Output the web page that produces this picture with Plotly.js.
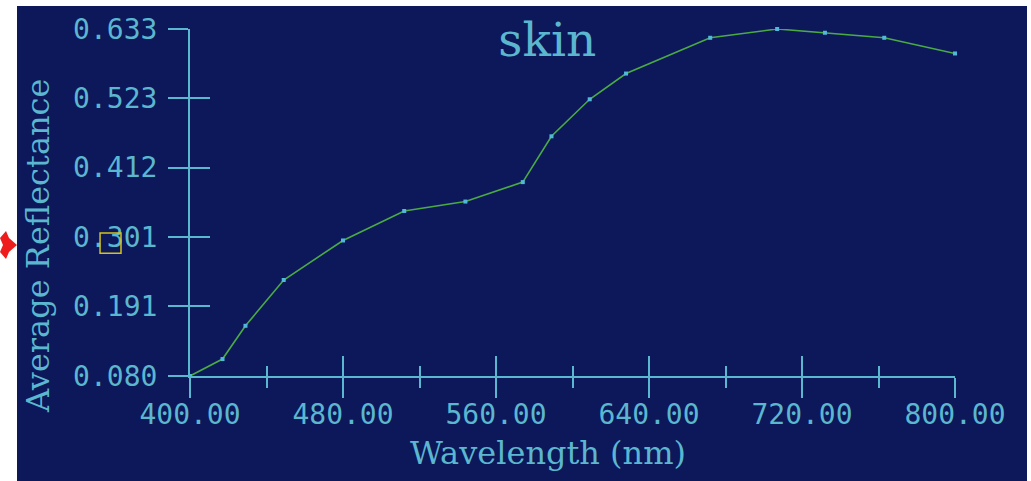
<!DOCTYPE html>
<html>
<head>
<meta charset="utf-8">
<script src="https://cdn.plot.ly/plotly-3.0.1.min.js"></script>
<style>
  html, body { margin: 0; padding: 0; background: #ffffff; width: 1031px; height: 481px; overflow: hidden; }
  #chart { position: absolute; left: 17px; top: 6px; width: 1010px; height: 475px; }
  #arrow { position: absolute; left: 0px; top: 231px; width: 17px; height: 28px; }
</style>
</head>
<body>
<svg id="arrow" viewBox="0 0 17 28"><polygon points="0,7 6,0 9,7 17,14 9,21 6,28 0,21 3,14" fill="#ee1c1c"/></svg>
<div id="chart"></div>
<script>
// Data
const wavelength = [400, 417, 429, 449, 480, 512, 544, 574, 589, 609, 628, 672, 707, 732, 763, 800];
const reflectance = [0.080, 0.107, 0.160, 0.233, 0.296, 0.343, 0.358, 0.389, 0.462, 0.521, 0.562, 0.619, 0.633, 0.627, 0.619, 0.594];
const yTickVals = [0.080, 0.191, 0.301, 0.412, 0.523, 0.633];
const yTickText = ['0.080', '0.191', '0.301', '0.412', '0.523', '0.633'];
const xTickVals = [400, 480, 560, 640, 720, 800];
const xTickText = ['400.00', '480.00', '560.00', '640.00', '720.00', '800.00'];
const chartTitle = 'skin';
const xTitle = 'Wavelength (nm)';
const yTitle = 'Average Reflectance';

const navy = '#0d185a';
const cyan = '#5bb6cf';
const green = '#4aab45';

const traces = [
  {
    x: wavelength, y: reflectance,
    type: 'scatter', mode: 'lines+markers',
    line: { color: green, width: 1.6 },
    marker: { color: '#52b8d8', size: 4, symbol: 'square' },
    cliponaxis: false,
    hoverinfo: 'x+y'
  },
  {
    x: wavelength, y: reflectance,
    xaxis: 'x2', yaxis: 'y2',
    type: 'scatter', mode: 'lines',
    line: { color: green, width: 0 },
    opacity: 0, hoverinfo: 'skip', showlegend: false
  }
];

const tickFont = { family: 'DejaVu Sans Mono', size: 28, color: cyan };
const titleFont = { family: 'DejaVu Serif', size: 32, color: cyan };

const layout = {
  width: 1010, height: 475,
  paper_bgcolor: navy, plot_bgcolor: navy,
  margin: { l: 173, r: 72, t: 23, b: 105 },
  showlegend: false,
  title: { text: chartTitle, font: { family: 'DejaVu Serif', size: 47, color: cyan }, x: 0.525, xanchor: 'center', y: 0.93, yanchor: 'middle' },
  xaxis: {
    range: [400, 800], showgrid: false, zeroline: false,
    showline: true, linecolor: cyan, linewidth: 2,
    tickmode: 'array', tickvals: xTickVals, ticktext: xTickText,
    ticks: 'outside', ticklen: 20, tickwidth: 2, tickcolor: cyan,
    minor: { dtick: 40, tick0: 400, ticks: 'outside', ticklen: 10, tickwidth: 2, tickcolor: cyan, showgrid: false },
    tickfont: tickFont, ticklabelstandoff: -8
  },
  yaxis: {
    range: [0.080, 0.633], showgrid: false, zeroline: false,
    showline: true, linecolor: cyan, linewidth: 2,
    tickmode: 'array', tickvals: yTickVals, ticktext: yTickText,
    ticks: 'outside', ticklen: 20, tickwidth: 2, tickcolor: cyan,
    tickfont: tickFont, ticklabelstandoff: 5
  },
  xaxis2: {
    overlaying: 'x', matches: 'x', range: [400, 800], side: 'bottom',
    showgrid: false, zeroline: false, showline: false, showticklabels: false,
    tickmode: 'array', tickvals: xTickVals,
    ticks: 'inside', ticklen: 20, tickwidth: 2, tickcolor: cyan,
    minor: { dtick: 40, tick0: 400, ticks: 'inside', ticklen: 10, tickwidth: 2, tickcolor: cyan, showgrid: false }
  },
  yaxis2: {
    overlaying: 'y', matches: 'y', range: [0.080, 0.633], side: 'left',
    showgrid: false, zeroline: false, showline: false, showticklabels: false,
    tickmode: 'array', tickvals: yTickVals,
    ticks: 'inside', ticklen: 20, tickwidth: 2, tickcolor: cyan
  },
  annotations: [
    { text: xTitle, xref: 'paper', yref: 'paper', x: 0.468, y: -0.222, xanchor: 'center', yanchor: 'middle',
      showarrow: false, font: titleFont },
    { text: yTitle, xref: 'paper', yref: 'paper', x: -0.1987, y: 0.3746, xanchor: 'center', yanchor: 'middle',
      textangle: -90, showarrow: false, font: titleFont }
  ],
  shapes: [
    { type: 'rect', xref: 'paper', yref: 'paper', x0: -0.1176, x1: -0.0902, y0: 0.354, y1: 0.412,
      line: { color: '#d4c21a', width: 1.5 }, fillcolor: 'rgba(0,0,0,0)' }
  ]
};

Plotly.newPlot('chart', traces, layout, { displayModeBar: false, staticPlot: true });
</script>
</body>
</html>
